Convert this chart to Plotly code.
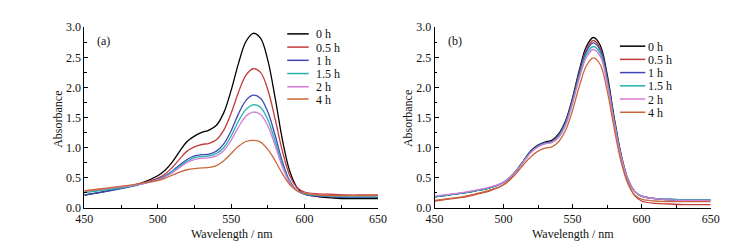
import plotly.graph_objects as go

wavelength = [450, 460, 470, 480, 490, 500, 505, 510, 515, 520, 525, 530, 535, 540, 545,
              550, 555, 560, 565, 570, 575, 580, 585, 590, 595, 600, 610, 620, 630, 640, 650]

series_names = ["0 h", "0.5 h", "1 h", "1.5 h", "2 h", "4 h"]
colors = ["#000000", "#c23b3b", "#3d46b8", "#22b3a6", "#d57bd8", "#c8683a"]

# Panel (a)
a_0h = [0.21, 0.25, 0.30, 0.35, 0.42, 0.53, 0.62, 0.76, 0.94, 1.10, 1.19, 1.25, 1.29, 1.37, 1.58,
        1.95, 2.40, 2.76, 2.90, 2.82, 2.45, 1.82, 1.12, 0.60, 0.33, 0.23, 0.18, 0.16, 0.15, 0.15, 0.15]
a_05h = [0.27, 0.29, 0.32, 0.36, 0.41, 0.49, 0.56, 0.67, 0.81, 0.94, 1.01, 1.05, 1.07, 1.13, 1.29,
         1.57, 1.92, 2.20, 2.31, 2.25, 1.96, 1.47, 0.93, 0.53, 0.33, 0.26, 0.23, 0.22, 0.21, 0.21, 0.21]
a_1h = [0.21, 0.25, 0.29, 0.34, 0.40, 0.47, 0.53, 0.61, 0.71, 0.80, 0.86, 0.88, 0.89, 0.94, 1.06,
        1.28, 1.56, 1.78, 1.87, 1.82, 1.59, 1.20, 0.76, 0.44, 0.28, 0.22, 0.19, 0.18, 0.17, 0.17, 0.17]
a_15h = [0.25, 0.28, 0.31, 0.35, 0.40, 0.46, 0.52, 0.60, 0.69, 0.77, 0.83, 0.85, 0.86, 0.90, 1.00,
         1.19, 1.44, 1.63, 1.71, 1.67, 1.46, 1.10, 0.71, 0.42, 0.28, 0.23, 0.20, 0.19, 0.18, 0.18, 0.18]
a_2h = [0.28, 0.30, 0.33, 0.36, 0.40, 0.46, 0.51, 0.58, 0.67, 0.75, 0.80, 0.82, 0.83, 0.86, 0.95,
        1.12, 1.34, 1.52, 1.59, 1.55, 1.36, 1.03, 0.67, 0.41, 0.28, 0.24, 0.21, 0.20, 0.20, 0.20, 0.20]
a_4h = [0.28, 0.31, 0.34, 0.37, 0.41, 0.45, 0.49, 0.54, 0.59, 0.63, 0.65, 0.66, 0.67, 0.70, 0.78,
        0.90, 1.02, 1.10, 1.12, 1.09, 0.97, 0.78, 0.56, 0.38, 0.28, 0.24, 0.21, 0.20, 0.20, 0.20, 0.20]

# Panel (b)
b_0h = [0.18, 0.21, 0.24, 0.28, 0.33, 0.42, 0.51, 0.64, 0.80, 0.95, 1.04, 1.09, 1.12, 1.23, 1.45,
        1.83, 2.30, 2.68, 2.83, 2.70, 2.22, 1.52, 0.90, 0.48, 0.27, 0.19, 0.15, 0.13, 0.12, 0.12, 0.12]
b_05h = [0.11, 0.14, 0.17, 0.22, 0.28, 0.38, 0.48, 0.62, 0.78, 0.93, 1.02, 1.07, 1.10, 1.21, 1.42,
         1.80, 2.26, 2.63, 2.78, 2.65, 2.16, 1.46, 0.84, 0.42, 0.20, 0.11, 0.07, 0.06, 0.05, 0.05, 0.05]
b_1h = [0.18, 0.21, 0.24, 0.28, 0.33, 0.42, 0.51, 0.63, 0.79, 0.94, 1.03, 1.08, 1.10, 1.21, 1.42,
        1.79, 2.24, 2.60, 2.74, 2.62, 2.15, 1.48, 0.88, 0.47, 0.27, 0.19, 0.15, 0.14, 0.13, 0.13, 0.13]
b_15h = [0.18, 0.21, 0.24, 0.28, 0.33, 0.42, 0.51, 0.63, 0.79, 0.93, 1.02, 1.07, 1.09, 1.19, 1.40,
         1.76, 2.20, 2.55, 2.68, 2.57, 2.11, 1.45, 0.87, 0.47, 0.27, 0.19, 0.15, 0.14, 0.13, 0.13, 0.13]
b_2h = [0.19, 0.22, 0.25, 0.29, 0.34, 0.42, 0.51, 0.63, 0.78, 0.92, 1.01, 1.06, 1.08, 1.17, 1.37,
        1.73, 2.16, 2.50, 2.63, 2.52, 2.07, 1.43, 0.86, 0.47, 0.27, 0.19, 0.15, 0.13, 0.12, 0.12, 0.12]
b_4h = [0.12, 0.15, 0.18, 0.23, 0.29, 0.38, 0.47, 0.59, 0.73, 0.85, 0.94, 0.99, 1.01, 1.10, 1.29,
        1.62, 2.03, 2.36, 2.49, 2.38, 1.95, 1.33, 0.77, 0.40, 0.21, 0.14, 0.11, 0.10, 0.10, 0.10, 0.10]

panel_a = [a_0h, a_05h, a_1h, a_15h, a_2h, a_4h]
panel_b = [b_0h, b_05h, b_1h, b_15h, b_2h, b_4h]

W, H = 737, 251
FONT = "Liberation Serif, Times New Roman, serif"

fig = go.Figure()
for name, col, ys in zip(series_names, colors, panel_a):
    fig.add_trace(go.Scatter(x=wavelength, y=ys, mode="lines", name=name,
                             line=dict(color=col, width=1.3, shape="spline", smoothing=1.0),
                             xaxis="x", yaxis="y", showlegend=False))
for name, col, ys in zip(series_names, colors, panel_b):
    fig.add_trace(go.Scatter(x=wavelength, y=ys, mode="lines", name=name,
                             line=dict(color=col, width=1.3, shape="spline", smoothing=1.0),
                             xaxis="x2", yaxis="y2", showlegend=False))

def px(x):
    return x / W

def py(y):
    return 1 - y / H

axis_common = dict(showline=True, linecolor="black", linewidth=1, mirror=False,
                   ticks="inside", ticklen=4, tickcolor="black", showgrid=False, zeroline=False,
                   tickfont=dict(family=FONT, size=12, color="#111"))
xcommon = dict(axis_common, range=[450, 650], dtick=50, tick0=450,
               minor=dict(ticks="inside", ticklen=2.5, dtick=25, tickcolor="black", showgrid=False))
ycommon = dict(axis_common, range=[0, 3.0], dtick=0.5, tick0=0, tickformat=".1f",
               minor=dict(ticks="inside", ticklen=2.5, dtick=0.25, tickcolor="black", showgrid=False))

yd = [py(204), py(13)]
fig.update_layout(
    width=W, height=H, margin=dict(l=0, r=0, t=0, b=0),
    paper_bgcolor="white", plot_bgcolor="white",
    xaxis=dict(xcommon, domain=[px(69), px(370)], anchor="y"),
    yaxis=dict(ycommon, domain=yd, anchor="x"),
    xaxis2=dict(xcommon, domain=[px(428), px(711)], anchor="y2"),
    yaxis2=dict(ycommon, domain=yd, anchor="x2"),
)

annotations = []
shapes = []
for cx, lab_x, lab in [(220, 89, "(a)"), (570, 449, "(b)")]:
    annotations.append(dict(text="Wavelength / nm", x=px(cx), y=py(232), xref="paper", yref="paper",
                            showarrow=False, font=dict(family=FONT, size=12, color="#111"),
                            xanchor="center", yanchor="middle"))
    annotations.append(dict(text=lab, x=px(lab_x), y=py(28), xref="paper", yref="paper",
                            showarrow=False, font=dict(family=FONT, size=12, color="#111"),
                            xanchor="center", yanchor="middle"))
for ax_x in [42, 401]:
    annotations.append(dict(text="Absorbance", x=px(ax_x), y=py(110), xref="paper", yref="paper",
                            showarrow=False, textangle=-90, font=dict(family=FONT, size=12, color="#111"),
                            xanchor="center", yanchor="middle"))

legend_specs = [(277, 299, 305, [20, 34, 48, 62, 76, 89]),
                (618, 644, 646, [33, 47, 61, 75, 89, 103])]
for x0, x1, tx, ys in legend_specs:
    for name, col, yy in zip(series_names, colors, ys):
        shapes.append(dict(type="line", xref="paper", yref="paper", x0=px(x0), x1=px(x1),
                           y0=py(yy), y1=py(yy), line=dict(color=col, width=1.5)))
        annotations.append(dict(text=name, x=px(tx), y=py(yy), xref="paper", yref="paper",
                                showarrow=False, xanchor="left", yanchor="middle", height=13,
                                borderpad=0, font=dict(family=FONT, size=12, color="#111")))

fig.update_layout(annotations=annotations, shapes=shapes)
fig.write_html("out.html")
